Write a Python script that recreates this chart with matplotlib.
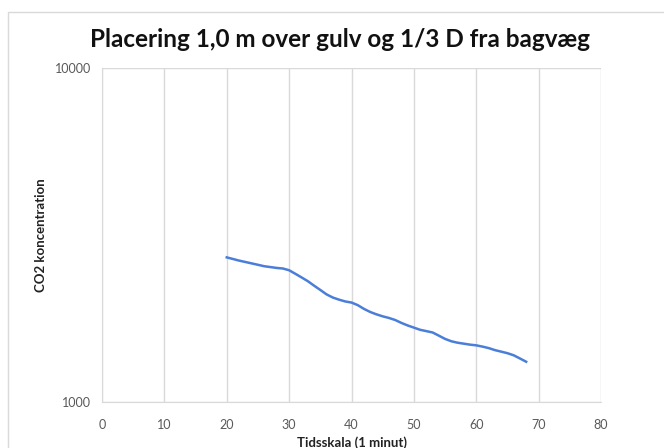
import matplotlib
matplotlib.use("Agg")
import matplotlib.pyplot as plt
from matplotlib.patches import Rectangle
from matplotlib.ticker import FixedLocator, NullLocator

# minutes and CO2 readings
minutes = list(range(20, 69))
co2 = [
    2710, 2680, 2650, 2625, 2600, 2575, 2550, 2535, 2520, 2510,
    2480, 2420, 2360, 2300, 2230, 2165, 2100, 2055, 2025, 2000,
    1985, 1950, 1900, 1860, 1830, 1805, 1785, 1760, 1725, 1695,
    1670, 1645, 1630, 1615, 1580, 1545, 1520, 1505, 1495, 1485,
    1478, 1465, 1450, 1430, 1415, 1400, 1380, 1350, 1320,
]
x_ticks = [0, 10, 20, 30, 40, 50, 60, 70, 80]
y_ticks = [1000, 10000]

TITLE = "Placering 1,0 m over gulv og 1/3 D fra bagvæg"
XLABEL = "Tidsskala (1 minut)"
YLABEL = "CO2 koncentration"

W, H = 664, 448
GRID = "#d9d9d9"
TEXT = "#595959"
LINE = "#4a7ed8"

plt.rcParams["font.family"] = ["Lato", "DejaVu Sans"]

fig = plt.figure(figsize=(W / 100, H / 100), dpi=100)

# chart area border (cut off on the right and bottom in the reference)
fig.patches.append(Rectangle((8 / W, -0.1), 1.2, 1 - 12 / H + 0.1,
                             transform=fig.transFigure, fill=False,
                             edgecolor=GRID, linewidth=1.0))

ax = fig.add_axes([102 / W, 1 - 402 / H, (601 - 102) / W, (402 - 68) / H])
ax.plot(minutes, co2, color=LINE, linewidth=1.8)

ax.set_yscale("log")
ax.set_xlim(0, 80)
ax.set_ylim(1000, 10000)
ax.xaxis.set_major_locator(FixedLocator(x_ticks))
ax.yaxis.set_major_locator(FixedLocator(y_ticks))
ax.yaxis.set_minor_locator(NullLocator())
ax.set_yticklabels([str(v) for v in y_ticks])
ax.grid(True, axis="both", color=GRID, linewidth=1.0)
for side in ax.spines.values():
    side.set_visible(False)
ax.spines["left"].set_visible(True)
ax.spines["left"].set_color(GRID)
ax.spines["bottom"].set_visible(True)
ax.spines["bottom"].set_color(GRID)
ax.tick_params(axis="both", length=0, labelsize=9, labelcolor=TEXT)
ax.tick_params(axis="x", pad=12)
ax.tick_params(axis="y", pad=8)

fig.text(340 / W, 1 - 46.7 / H, TITLE, ha="center", va="baseline",
         fontsize=17.5, fontweight="bold", color="#111111")
fig.text(352 / W, 1 - 443 / H, XLABEL, ha="center", va="center",
         fontsize=9.5, fontweight="bold", color="#222222")
fig.text(41 / W, 1 - 235 / H, YLABEL, ha="center", va="center",
         rotation=90, fontsize=9.5, fontweight="bold", color="#222222")

fig.savefig("out.png", dpi=100)
